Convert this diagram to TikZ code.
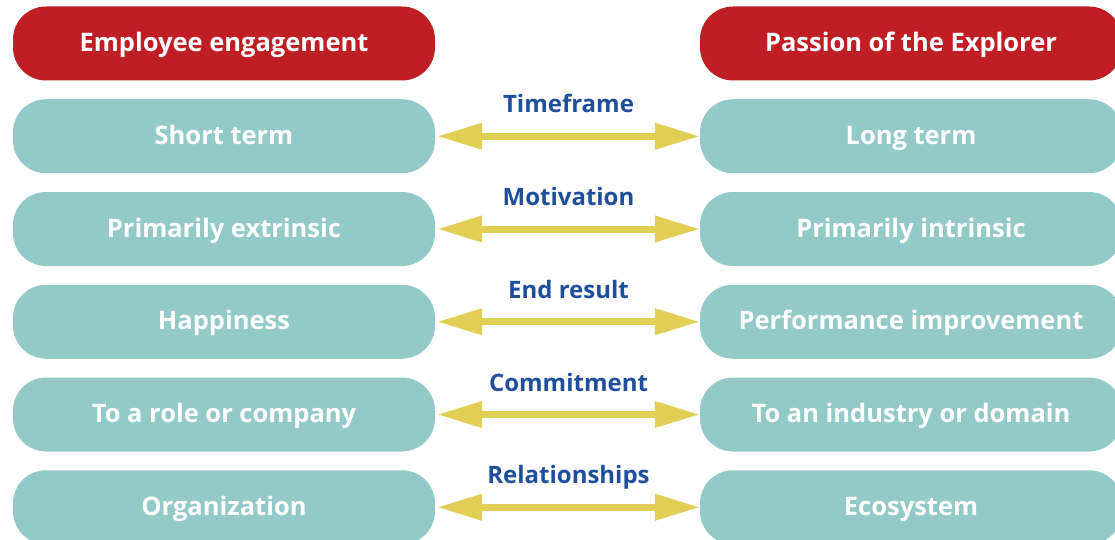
\documentclass[tikz,border=0pt]{standalone}
\usepackage{fontspec}
\setmainfont{Open Sans}
\usetikzlibrary{arrows.meta}
\definecolor{hdred}{HTML}{BE1E24}
\definecolor{teal1}{HTML}{93C9C6}
\definecolor{arrowy}{HTML}{E0CE55}
\definecolor{lblue}{HTML}{1F4E9A}
\tikzset{
  box/.style={rounded corners=33pt, minimum width=422pt, minimum height=74pt, inner sep=0pt,
    text height=20pt, text depth=4pt,
    font=\fontsize{25.5}{30}\selectfont\bfseries, text=white},
  hdbox/.style={box, fill=hdred},
  rowbox/.style={box, fill=teal1},
  dblarrow/.style={draw=arrowy, line width=7pt, {Triangle[length=45pt,width=25pt]}-{Triangle[length=45pt,width=25pt]}},
  lbl/.style={font=\fontsize{24}{28}\selectfont\bfseries, text=lblue, text height=18pt, text depth=5pt, inner sep=0pt}
}
\begin{document}
\begin{tikzpicture}[x=1pt,y=-1pt]
\useasboundingbox (0,0) rectangle (1115,540);
\clip (0,0) rectangle (1115,540);
\node[hdbox] (lh) at (224,43.5) {Employee engagement};
\node[hdbox] (rh) at (911,43.5) {Passion of the Explorer};
\foreach \i/\lt/\rt/\lab in {1/Short term/Long term/Timeframe,
  2/Primarily extrinsic/Primarily intrinsic/Motivation,
  3/Happiness/Performance improvement/End result,
  4/To a role or company/To an industry or domain/Commitment,
  5/Organization/Ecosystem/Relationships}{
  \node[rowbox] (l\i) at (224,43.5+92.75*\i) {\lt};
  \node[rowbox] (r\i) at (911,43.5+92.75*\i) {\rt};
  \draw[dblarrow] ([xshift=2pt]l\i.east) -- (r\i.west) node[midway, lbl, yshift=30pt] (t\i) {\lab};
}
\end{tikzpicture}
\end{document}
